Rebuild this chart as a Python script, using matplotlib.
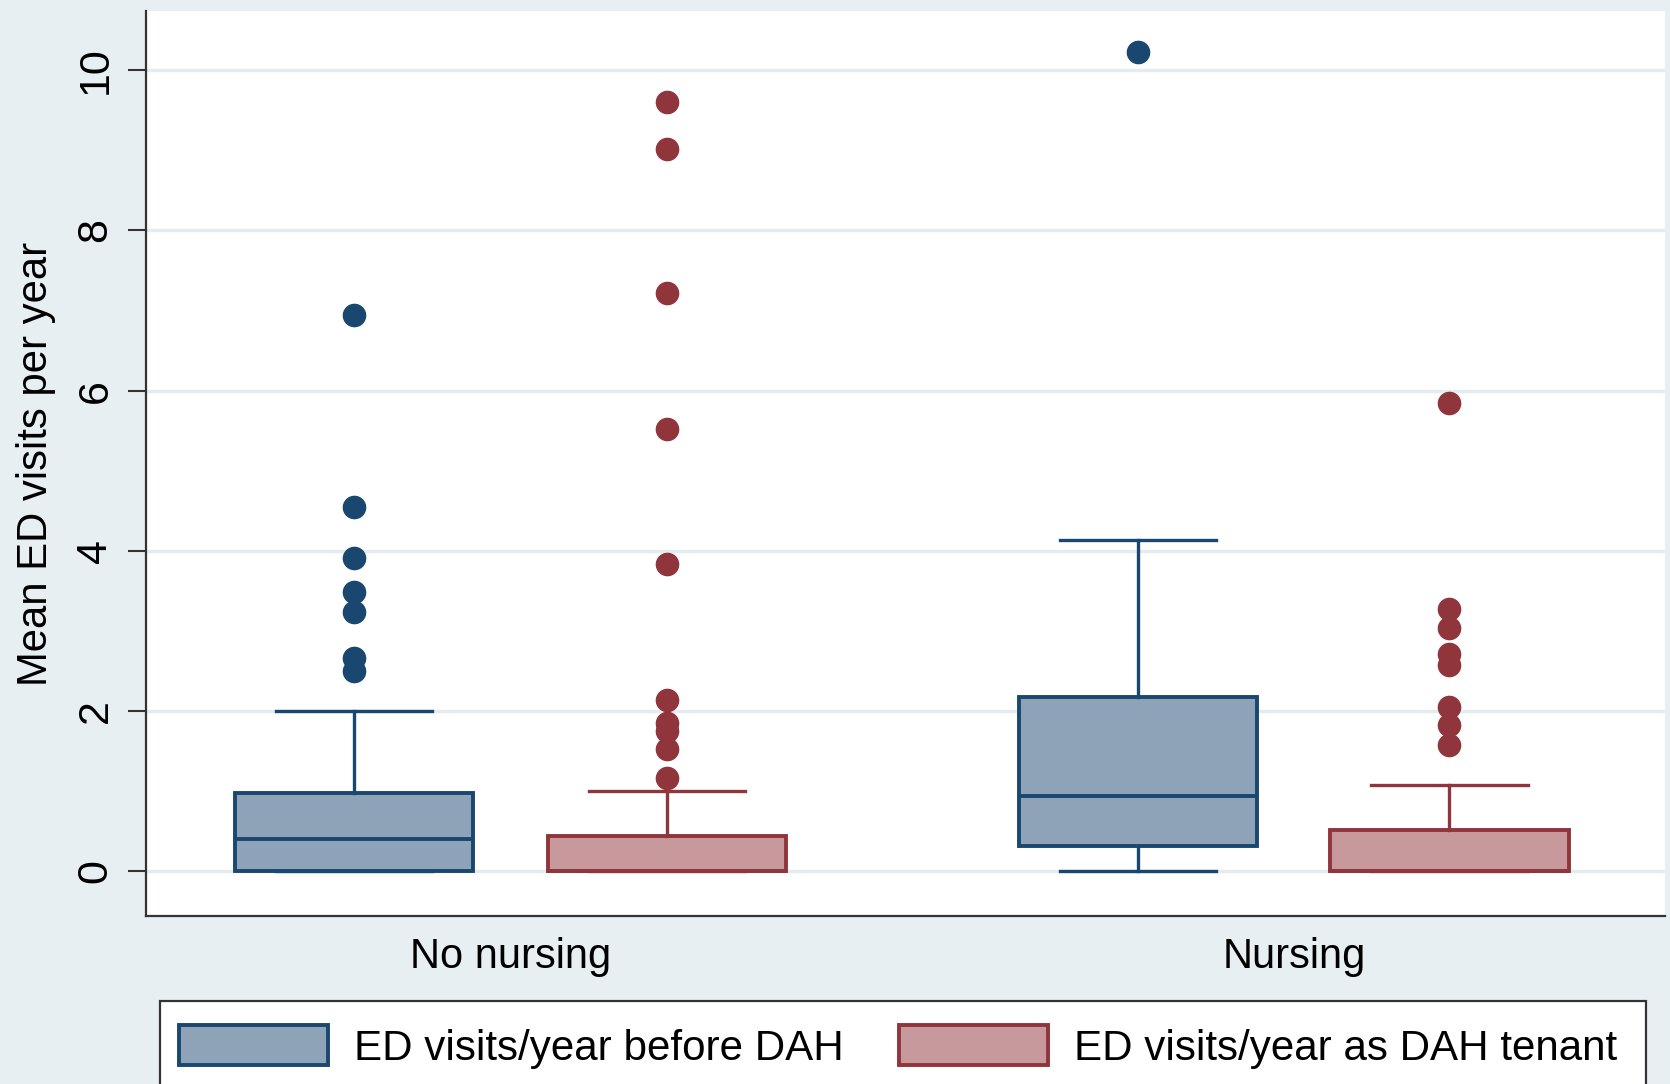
import matplotlib
matplotlib.use("Agg")
import matplotlib.pyplot as plt
from matplotlib.patches import Patch, Rectangle

plt.rcParams['font.family'] = ['Liberation Sans', 'DejaVu Sans']

# Groups and series
groups = ["No nursing", "Nursing"]
series = ["ED visits/year before DAH", "ED visits/year as DAH tenant"]

# Box summaries: (q1, median, q3, lower whisker, upper whisker)
before_no_nursing = (0.0, 0.40, 0.97, 0.0, 2.00)
tenant_no_nursing = (0.0, 0.0, 0.44, 0.0, 1.00)
before_nursing = (0.32, 0.94, 2.17, 0.0, 4.14)
tenant_nursing = (0.0, 0.0, 0.52, 0.0, 1.08)

# Outlying values
out_before_no_nursing = [6.94, 4.55, 3.91, 3.48, 3.24, 2.66, 2.50]
out_tenant_no_nursing = [9.61, 9.02, 7.22, 5.52, 3.83, 2.14, 1.85, 1.75, 1.52, 1.16]
out_before_nursing = [10.23]
out_tenant_nursing = [5.85, 3.27, 3.03, 2.71, 2.58, 2.05, 1.82, 1.58]

blue_edge, blue_fill = "#1a476f", "#8fa3b8"
red_edge, red_fill = "#90353b", "#c8999c"
bg = "#e8eff2"


def box_stats(summary, fliers):
    q1, med, q3, lo, hi = summary
    return dict(q1=q1, med=med, q3=q3, whislo=lo, whishi=hi, fliers=fliers)


fig = plt.figure(figsize=(16.7, 10.84), dpi=100, facecolor=bg)
ax = fig.add_axes([146 / 1670, 168 / 1084, (1665 - 146) / 1670, (1073 - 168) / 1084])
ax.set_facecolor("white")

blue_pos = [0.137, 0.653]
red_pos = [0.343, 0.858]
box_w = 0.157
cap_w = 0.103

for stats, pos, ec, fc in [
    ([box_stats(before_no_nursing, out_before_no_nursing),
      box_stats(before_nursing, out_before_nursing)], blue_pos, blue_edge, blue_fill),
    ([box_stats(tenant_no_nursing, out_tenant_no_nursing),
      box_stats(tenant_nursing, out_tenant_nursing)], red_pos, red_edge, red_fill),
]:
    ax.bxp(stats, positions=pos, widths=box_w, capwidths=cap_w,
           patch_artist=True, manage_ticks=False,
           boxprops=dict(facecolor=fc, edgecolor=ec, linewidth=2.8),
           medianprops=dict(color=ec, linewidth=2.8),
           whiskerprops=dict(color=ec, linewidth=2.4),
           capprops=dict(color=ec, linewidth=2.4),
           flierprops=dict(marker='o', markerfacecolor=ec, markeredgecolor=ec,
                           markersize=16, linestyle='none'),
           zorder=3)

ax.set_xlim(0, 1)
ax.set_ylim(-0.56, 10.74)
ax.set_yticks([0, 2, 4, 6, 8, 10])
ax.set_yticklabels(["0", "2", "4", "6", "8", "10"], rotation=90, va="center")
ax.tick_params(axis='y', length=13, width=1.5, color="#333333", pad=9, labelsize=31)
ax.set_xticks([0.24, 0.756])
ax.set_xticklabels(groups)
ax.tick_params(axis='x', length=0, pad=15, labelsize=30)
ax.yaxis.grid(True, color="#e4ecef", linewidth=2.5, zorder=0)
ax.set_axisbelow(True)
ax.set_ylabel("Mean ED visits per year", fontsize=30.2, labelpad=14)

for side in ("top", "right"):
    ax.spines[side].set_visible(False)
for side in ("left", "bottom"):
    ax.spines[side].set_color("#333333")
    ax.spines[side].set_linewidth(1.6)

# Legend frame running off the lower edge of the figure
frame = Rectangle((160 / 1670, -0.05), (1646 - 160) / 1670, 0.05 + (1084 - 1001) / 1084,
                  transform=fig.transFigure, facecolor="white", edgecolor="#333333",
                  linewidth=1.6, clip_on=False, zorder=1)
fig.patches.append(frame)

handles = [Patch(facecolor=blue_fill, edgecolor=blue_edge, linewidth=2.8),
           Patch(facecolor=red_fill, edgecolor=red_edge, linewidth=2.8)]
leg = fig.legend(handles, series, ncol=2, loc="center left",
                 bbox_to_anchor=(179 / 1670, 1 - 1047 / 1084), frameon=False,
                 borderpad=0, borderaxespad=0, fontsize=30.3,
                 handlelength=3.55, handleheight=1.08, handletextpad=0.62,
                 columnspacing=1.3)
leg.set_zorder(2)

fig.savefig("out.png", dpi=100, facecolor=bg)
